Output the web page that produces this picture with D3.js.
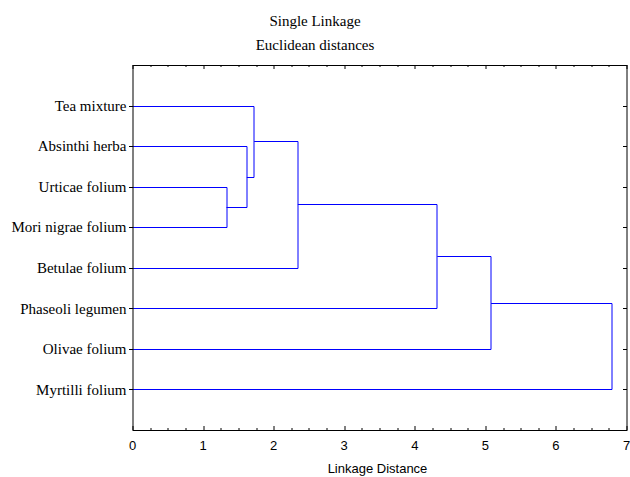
<!DOCTYPE html>
<html>
<head>
<meta charset="utf-8">
<script src="https://cdn.jsdelivr.net/npm/d3@7"></script>
<style>
  body { margin: 0; background: #fff; }
  svg { display: block; }
</style>
</head>
<body>
<div id="chart"></div>
<script>
// leaves, top to bottom
const leaves = ["Tea mixture", "Absinthi herba", "Urticae folium", "Mori nigrae folium",
                "Betulae folium", "Phaseoli legumen", "Olivae folium", "Myrtilli folium"];

// merge steps: [left child, right child]
// children are leaf names or earlier merge indexes ("#n")
const mergeA = ["Urticae folium", "Mori nigrae folium"];
const mergeB = ["Absinthi herba", "#0"];
const mergeC = ["Tea mixture", "#1"];
const mergeD = ["#2", "Betulae folium"];
const mergeE = ["#3", "Phaseoli legumen"];
const mergeF = ["#4", "Olivae folium"];
const mergeG = ["#5", "Myrtilli folium"];
const merges = [mergeA, mergeB, mergeC, mergeD, mergeE, mergeF, mergeG];
// linkage distance of each merge
const heights = [1.325, 1.613, 1.717, 2.336, 4.312, 5.074, 6.786];

const xTicks = [0, 1, 2, 3, 4, 5, 6, 7];

const WIDTH = 630, HEIGHT = 477;
const margin = { top: 65, right: 3.5, bottom: 47, left: 132.5 };
const plotW = WIDTH - margin.left - margin.right;
const plotH = HEIGHT - margin.top - margin.bottom;

const SERIF = "'Liberation Serif', 'Times New Roman', serif";
const SANS = "'Liberation Sans', Arial, sans-serif";

const svg = d3.select("#chart").append("svg")
    .attr("width", WIDTH)
    .attr("height", HEIGHT);

const g = svg.append("g")
    .attr("transform", `translate(${margin.left},${margin.top})`);

const x = d3.scaleLinear().domain([0, 7]).range([0, plotW]);
const y = d3.scaleLinear().domain([0, leaves.length + 1]).range([0, plotH]);

// position of each node: leaves at their row, clusters at mid of children
function nodePos(key) {
    if (key.startsWith("#")) {
        const i = +key.slice(1);
        const a = nodePos(merges[i][0]), b = nodePos(merges[i][1]);
        return { x: heights[i], y: (a.y + b.y) / 2 };
    }
    return { x: 0, y: leaves.indexOf(key) + 1 };
}

const links = merges.map((m, i) => {
    const a = nodePos(m[0]), b = nodePos(m[1]);
    return { a, b, h: heights[i] };
});

g.selectAll("path.link")
    .data(links)
    .enter()
    .append("path")
    .attr("class", "link")
    .attr("fill", "none")
    .attr("stroke", "#0000ff")
    .attr("stroke-width", 1)
    .attr("d", d => {
        const ay = Math.round(y(d.a.y)) + 0.5, by = Math.round(y(d.b.y)) + 0.5;
        const hx = Math.round(x(d.h)) + 0.5;
        return `M${x(d.a.x) + 0.5},${ay}H${hx}V${by}H${x(d.b.x) + 0.5}`;
    });

// frame
g.append("rect")
    .attr("x", 0.5).attr("y", 0.5)
    .attr("width", Math.round(plotW)).attr("height", Math.round(plotH))
    .attr("fill", "none")
    .attr("stroke", "#000")
    .attr("stroke-width", 1);

const minor = d3.range(0, 7.001, 0.25);

// bottom ticks (inward)
g.selectAll("line.bt")
    .data(minor)
    .enter()
    .append("line")
    .attr("x1", d => Math.round(x(d)) + 0.5)
    .attr("x2", d => Math.round(x(d)) + 0.5)
    .attr("y1", Math.round(plotH))
    .attr("y2", d => Math.round(plotH) - (d % 1 === 0 ? 4 : 2))
    .attr("stroke", "#000");

// top ticks (inward)
g.selectAll("line.tt")
    .data(minor)
    .enter()
    .append("line")
    .attr("x1", d => Math.round(x(d)) + 0.5)
    .attr("x2", d => Math.round(x(d)) + 0.5)
    .attr("y1", 0)
    .attr("y2", d => (d % 1 === 0 ? 4 : 2))
    .attr("stroke", "#000");

// right ticks (inward) at leaf rows
g.selectAll("line.rt")
    .data(leaves)
    .enter()
    .append("line")
    .attr("x1", Math.round(plotW) + 0.5)
    .attr("x2", Math.round(plotW) - 3.5)
    .attr("y1", (d, i) => Math.round(y(i + 1)) + 0.5)
    .attr("y2", (d, i) => Math.round(y(i + 1)) + 0.5)
    .attr("stroke", "#000");

// left ticks (outward) and leaf labels
g.selectAll("line.lt")
    .data(leaves)
    .enter()
    .append("line")
    .attr("x1", 0.5)
    .attr("x2", -3.5)
    .attr("y1", (d, i) => Math.round(y(i + 1)) + 0.5)
    .attr("y2", (d, i) => Math.round(y(i + 1)) + 0.5)
    .attr("stroke", "#000");

g.selectAll("text.leaf")
    .data(leaves)
    .enter()
    .append("text")
    .attr("x", -6)
    .attr("y", (d, i) => y(i + 1))
    .attr("dy", "0.35em")
    .attr("text-anchor", "end")
    .attr("font-family", SERIF)
    .attr("font-size", 15)
    .text(d => d);

// x tick labels
g.selectAll("text.xt")
    .data(xTicks)
    .enter()
    .append("text")
    .attr("x", d => x(d))
    .attr("y", plotH + 20)
    .attr("text-anchor", "middle")
    .attr("font-family", SANS)
    .attr("font-size", 13)
    .text(d => d);

g.append("text")
    .attr("x", plotW / 2 - 2)
    .attr("y", plotH + 43)
    .attr("text-anchor", "middle")
    .attr("font-family", SANS)
    .attr("font-size", 13)
    .text("Linkage Distance");

// titles
svg.append("text")
    .attr("x", WIDTH / 2)
    .attr("y", 26)
    .attr("text-anchor", "middle")
    .attr("font-family", SERIF)
    .attr("font-size", 15)
    .text("Single Linkage");

svg.append("text")
    .attr("x", WIDTH / 2)
    .attr("y", 50)
    .attr("text-anchor", "middle")
    .attr("font-family", SERIF)
    .attr("font-size", 15)
    .text("Euclidean distances");
</script>
</body>
</html>
